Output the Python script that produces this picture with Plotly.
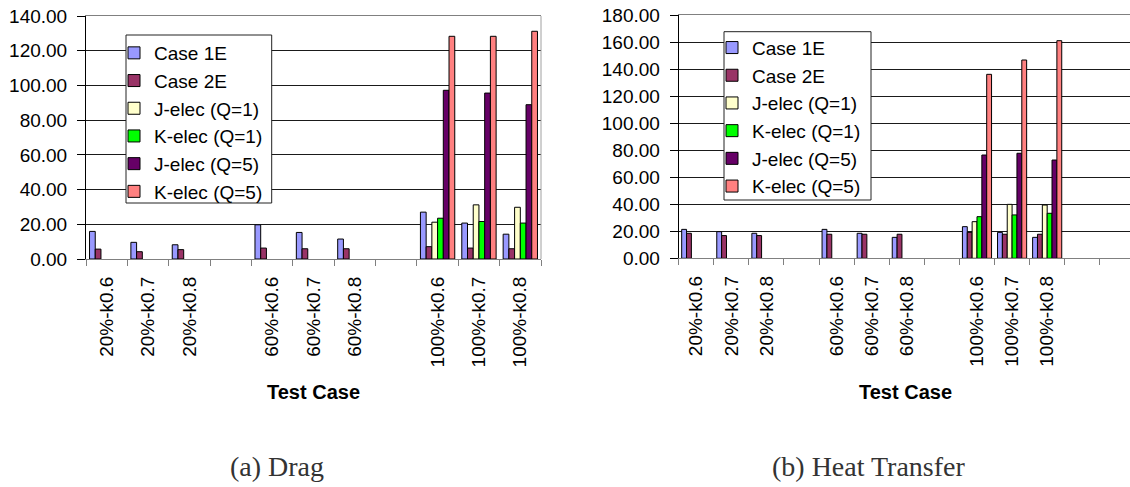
import plotly.graph_objects as go

# Test cases along the x axis (blank slots separate the groups)
categories_drag = ["20%-k0.6", "20%-k0.7", "20%-k0.8", " ",
                   "60%-k0.6", "60%-k0.7", "60%-k0.8", "  ",
                   "100%-k0.6", "100%-k0.7", "100%-k0.8"]
categories_heat = categories_drag + ["   ", "    "]

series_names = ["Case 1E", "Case 2E", "J-elec (Q=1)", "K-elec (Q=1)",
                "J-elec (Q=5)", "K-elec (Q=5)"]
series_colors = ["#9999FF", "#993366", "#FFFFCC", "#00FF00", "#660066", "#FF8080"]

# Drag
drag_case1e = [15.9, 9.6, 8.2, None, 19.7, 15.3, 11.5, None, 27.0, 20.7, 14.3]
drag_case2e = [5.7, 4.2, 5.4, None, 6.3, 5.9, 5.9, None, 7.1, 6.3, 5.9]
drag_j_q1 = [None, None, None, None, None, None, None, None, 21.2, 31.2, 29.8]
drag_k_q1 = [None, None, None, None, None, None, None, None, 23.5, 21.6, 20.7]
drag_j_q5 = [None, None, None, None, None, None, None, None, 97.2, 95.6, 88.9]
drag_k_q5 = [None, None, None, None, None, None, None, None, 128.3, 128.3, 131.2]

# Heat transfer
heat_case1e = [21.4, 19.7, 18.5, None, 21.4, 18.5, 15.5, None, 23.4, 19.2, 15.5, None, None]
heat_case2e = [18.5, 16.8, 16.8, None, 17.8, 17.8, 17.8, None, 19.2, 17.8, 17.8, None, None]
heat_j_q1 = [None, None, None, None, None, None, None, None, 27.1, 39.9, 39.4, None, None]
heat_k_q1 = [None, None, None, None, None, None, None, None, 30.8, 32.1, 33.3, None, None]
heat_j_q5 = [None, None, None, None, None, None, None, None, 76.4, 77.7, 72.7, None, None]
heat_k_q5 = [None, None, None, None, None, None, None, None, 136.1, 146.7, 161.0, None, None]

drag_series = [drag_case1e, drag_case2e, drag_j_q1, drag_k_q1, drag_j_q5, drag_k_q5]
heat_series = [heat_case1e, heat_case2e, heat_j_q1, heat_k_q1, heat_j_q5, heat_k_q5]

W, H = 1130, 487
FONT = "Liberation Sans, Arial, sans-serif"

fig = go.Figure()

for i, (name, color) in enumerate(zip(series_names, series_colors)):
    fig.add_trace(go.Bar(
        x=categories_drag, y=drag_series[i], name=name,
        marker=dict(color=color, line=dict(color="#000000", width=1)),
        xaxis="x", yaxis="y", legend="legend", legendgroup="d%d" % i,
    ))
for i, (name, color) in enumerate(zip(series_names, series_colors)):
    fig.add_trace(go.Bar(
        x=categories_heat, y=heat_series[i], name=name,
        marker=dict(color=color, line=dict(color="#000000", width=1)),
        xaxis="x2", yaxis="y2", legend="legend2", legendgroup="h%d" % i,
    ))


def px_x(v):
    return v / W


def px_y(v):
    return 1 - v / H


xcommon = dict(
    type="category", tickson="boundaries", ticks="outside", ticklen=6,
    tickcolor="#808080", tickwidth=1, tickangle=-90, ticklabelstandoff=9,
    showline=True, linecolor="#808080", linewidth=1, mirror=True,
    showgrid=False, zeroline=False, automargin=False,
    tickfont=dict(family=FONT, size=19, color="#000000"),
)
ycommon = dict(
    ticks="outside", ticklen=8, tickcolor="#000000", tickwidth=1,
    ticklabelstandoff=6, automargin=False,
    showline=True, linecolor="#000000", linewidth=1,
    showgrid=True, gridcolor="#1a1a1a", gridwidth=1, zeroline=False,
    tickformat=".2f", tickfont=dict(family=FONT, size=19, color="#000000"),
)
legend_common = dict(
    xanchor="left", yanchor="top",
    bgcolor="rgba(0,0,0,0)", borderwidth=0,
    font=dict(family=FONT, size=19, color="#000000"),
    traceorder="grouped", tracegroupgap=0,
)

fig.update_layout(
    template="none",
    width=W, height=H,
    margin=dict(l=0, r=0, t=0, b=0, autoexpand=False),
    paper_bgcolor="white", plot_bgcolor="white",
    barmode="group", bargap=0.17, bargroupgap=0,
    xaxis=dict(xcommon, domain=[px_x(86), px_x(541)], anchor="y",
               categoryorder="array", categoryarray=categories_drag,
               range=[-0.5, len(categories_drag) - 0.5]),
    yaxis=dict(ycommon, domain=[px_y(259), px_y(16)], anchor="x",
               range=[0, 140], dtick=20),
    xaxis2=dict(xcommon, domain=[px_x(678.7), 1.0], anchor="y2",
                categoryorder="array", categoryarray=categories_heat,
                range=[-0.5, 12.36]),
    yaxis2=dict(ycommon, domain=[px_y(258.3), px_y(15)], anchor="x2",
                range=[0, 180], dtick=20),
    legend=dict(legend_common, x=px_x(114), y=px_y(34)),
    legend2=dict(legend_common, x=px_x(712), y=px_y(28.7)),
    showlegend=True,
)

# Legend frames (white boxes behind the legend entries)
for x0, x1, y0, y1 in [(126, 271.7, 35, 203), (724, 871, 31.7, 200)]:
    fig.add_shape(type="rect", xref="paper", yref="paper", layer="above",
                  x0=px_x(x0), x1=px_x(x1), y0=px_y(y1), y1=px_y(y0),
                  fillcolor="white", line=dict(color="#222222", width=1))

# Right-hand plot-area border of the drag chart
fig.add_shape(type="line", xref="paper", yref="paper",
              x0=px_x(541), x1=px_x(541), y0=px_y(259), y1=px_y(16),
              line=dict(color="#A0A0A0", width=1))

# Axis titles and panel captions
for cx, txt in [(313, "Test Case"), (905, "Test Case")]:
    fig.add_annotation(x=px_x(cx), y=px_y(392), xref="paper", yref="paper",
                       xanchor="center", yanchor="middle",
                       text="<b>%s</b>" % txt, showarrow=False,
                       font=dict(family=FONT, size=20, color="#000000"))
for cx, txt in [(277, "(a) Drag"), (869, "(b) Heat Transfer")]:
    fig.add_annotation(x=px_x(cx), y=px_y(466), xref="paper", yref="paper",
                       xanchor="center", yanchor="middle",
                       text=txt, showarrow=False,
                       font=dict(family="Liberation Serif, serif", size=28,
                                 color="#333333"))

fig.write_html("out.html")
